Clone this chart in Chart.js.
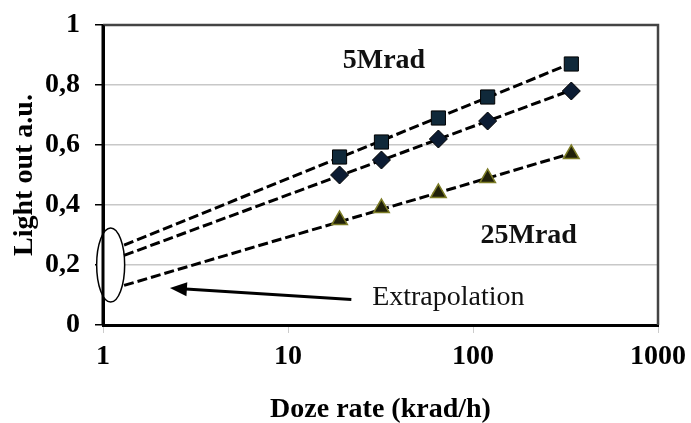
<!DOCTYPE html>
<html>
<head>
<meta charset="utf-8">
<script src="https://cdn.jsdelivr.net/npm/chart.js@4.4.1/dist/chart.umd.min.js"></script>
<style>
  body { margin: 0; background: #fff; }
  canvas { display: block; }
</style>
</head>
<body>
<canvas id="chart" width="691" height="423"></canvas>
<script>
// data
const dozeRates = [19, 32, 65, 120, 340];
const squareLight = [0.56, 0.61, 0.69, 0.76, 0.87];
const diamondLight = [0.5, 0.55, 0.62, 0.68, 0.78];
const triangleLight = [0.35, 0.39, 0.44, 0.49, 0.57];
// dashed extrapolation lines (start at the ellipse, end at last point)
const fitX = [1.3, 340];
const fitSquare = [0.266, 0.872];
const fitDiamond = [0.232, 0.783];
const fitTriangle = [0.132, 0.572];
const xTicks = [1, 10, 100, 1000];
const yTicks = [0, 0.2, 0.4, 0.6, 0.8, 1];
const yTickLabels = ["0", "0,2", "0,4", "0,6", "0,8", "1"];

const serif = "'Liberation Serif', 'Times New Roman', serif";
const boldFont = { family: serif, size: 28, weight: "bold" };

const toPoints = (xs, ys) => xs.map((x, i) => ({ x: x, y: ys[i] }));

const fitLine = (ys) => ({
  data: toPoints(fitX, ys),
  showLine: true,
  borderColor: "#000",
  borderWidth: 3,
  borderDash: [10, 4],
  pointRadius: 0,
  order: 2,
});

const extras = {
  id: "extras",
  beforeDatasetsDraw(chart) {
    const { ctx, scales: { x, y }, chartArea } = chart;
    ctx.save();
    // frame top / right
    ctx.strokeStyle = "#444";
    ctx.lineWidth = 2.5;
    ctx.beginPath();
    ctx.moveTo(chartArea.left, chartArea.top);
    ctx.lineTo(chartArea.right, chartArea.top);
    ctx.lineTo(chartArea.right, chartArea.bottom);
    ctx.stroke();
    // ellipse around the extrapolated values
    ctx.beginPath();
    ctx.ellipse(x.getPixelForValue(1.1), y.getPixelForValue(0.2), 14, 37, 0, 0, Math.PI * 2);
    ctx.fillStyle = "#fff";
    ctx.fill();
    ctx.strokeStyle = "#000";
    ctx.lineWidth = 1.5;
    ctx.stroke();
    // left axis back over the ellipse
    ctx.lineWidth = 3;
    ctx.beginPath();
    ctx.moveTo(chartArea.left, chartArea.top);
    ctx.lineTo(chartArea.left, chartArea.bottom);
    ctx.stroke();
    // arrow
    const x0 = x.getPixelForValue(22), y0 = y.getPixelForValue(0.085);
    const x1 = x.getPixelForValue(2.3), y1 = y.getPixelForValue(0.123);
    const ang = Math.atan2(y1 - y0, x1 - x0);
    ctx.lineWidth = 3;
    ctx.beginPath();
    ctx.moveTo(x0, y0);
    ctx.lineTo(x1 - Math.cos(ang) * 12, y1 - Math.sin(ang) * 12);
    ctx.stroke();
    ctx.fillStyle = "#000";
    ctx.beginPath();
    ctx.moveTo(x1, y1);
    ctx.lineTo(x1 - Math.cos(ang) * 17 + Math.sin(ang) * 7, y1 - Math.sin(ang) * 17 - Math.cos(ang) * 7);
    ctx.lineTo(x1 - Math.cos(ang) * 17 - Math.sin(ang) * 7, y1 - Math.sin(ang) * 17 + Math.cos(ang) * 7);
    ctx.closePath();
    ctx.fill();
    // texts
    ctx.fillStyle = "#111";
    ctx.textBaseline = "middle";
    ctx.textAlign = "center";
    ctx.font = "bold 28px " + serif;
    ctx.fillText("5Mrad", x.getPixelForValue(33), y.getPixelForValue(0.88));
    ctx.fillText("25Mrad", x.getPixelForValue(200), y.getPixelForValue(0.297));
    ctx.textAlign = "left";
    ctx.font = "28px " + serif;
    ctx.fillText("Extrapolation", x.getPixelForValue(28.5), y.getPixelForValue(0.09));
    ctx.restore();
  },
};

new Chart(document.getElementById("chart"), {
  type: "scatter",
  data: {
    datasets: [
      fitLine(fitSquare),
      fitLine(fitDiamond),
      fitLine(fitTriangle),
      {
        data: toPoints(dozeRates, squareLight),
        pointStyle: "rect",
        pointRadius: 10,
        backgroundColor: "#10293a",
        borderColor: "#000",
        borderWidth: 1,
        order: 1,
      },
      {
        data: toPoints(dozeRates, diamondLight),
        pointStyle: "rectRot",
        pointRadius: 9,
        backgroundColor: "#0c1c33",
        borderColor: "#000",
        borderWidth: 1,
        order: 1,
      },
      {
        data: toPoints(dozeRates, triangleLight),
        pointStyle: "triangle",
        pointRadius: 9,
        backgroundColor: "#20200a",
        borderColor: "#7c7c26",
        borderWidth: 1.5,
        order: 1,
      },
    ],
  },
  options: {
    responsive: false,
    animation: false,
    devicePixelRatio: 1,
    layout: { padding: { top: 25, right: 33, left: 0, bottom: 0 } },
    plugins: { legend: { display: false }, tooltip: { enabled: false } },
    scales: {
      x: {
        type: "logarithmic",
        min: 1,
        max: 1000,
        afterBuildTicks: (scale) => {
          scale.ticks = xTicks.map((v) => ({ value: v, major: true }));
        },
        afterFit: (scale) => {
          scale.height = 98;
          scale.paddingLeft = 0;
          scale.paddingRight = 0;
        },
        border: { color: "#000", width: 3 },
        grid: { drawOnChartArea: false, color: "#ccc", tickLength: 8 },
        ticks: {
          font: boldFont,
          color: "#000",
          padding: 7,
          autoSkip: false,
          maxRotation: 0,
          callback: (v) => String(v),
        },
        title: {
          display: true,
          text: "Doze rate (krad/h)",
          font: boldFont,
          color: "#000",
          padding: { top: 0, bottom: -4 },
        },
      },
      y: {
        min: 0,
        max: 1,
        afterBuildTicks: (scale) => {
          scale.ticks = yTicks.map((v) => ({ value: v }));
        },
        afterFit: (scale) => {
          scale.width = 103;
          scale.paddingTop = 0;
          scale.paddingBottom = 0;
        },
        border: { color: "#000", width: 3 },
        grid: { color: "#c8c8c8", lineWidth: 1.5, tickColor: "#000", tickLength: 8 },
        ticks: {
          font: boldFont,
          color: "#000",
          padding: 15,
          callback: (v) => yTickLabels[yTicks.indexOf(v)],
        },
        title: {
          display: true,
          text: "Light out a.u.",
          font: boldFont,
          color: "#000",
          padding: { top: 8, bottom: 0 },
        },
      },
    },
  },
  plugins: [extras],
});
</script>
</body>
</html>
